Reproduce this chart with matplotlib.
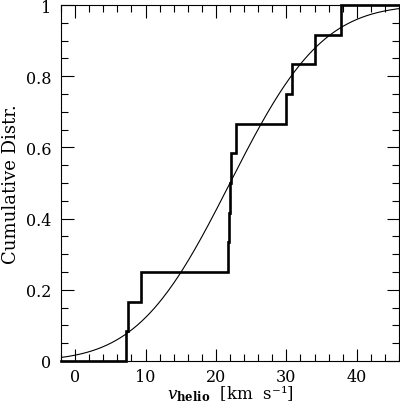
import numpy as np
import matplotlib
matplotlib.use("Agg")
import matplotlib.pyplot as plt
from matplotlib.ticker import MultipleLocator, FormatStrFormatter
from math import erf, sqrt

# velocities (sorted)
v_helio = [7.2, 7.45, 9.4, 21.65, 21.8, 22.0, 22.1, 22.9, 30.0, 30.8, 34.0, 37.7]
# gaussian model drawn on top
mu = 22.0
sigma = 10.3

xlo, xhi = -2, 46

plt.rcParams['font.family'] = ['DejaVu Serif']
plt.rcParams['mathtext.fontset'] = 'dejavuserif'

fig = plt.figure(figsize=(4.0, 4.06), dpi=100)
ax = fig.add_axes([0.1525, 0.1084, 0.845, 0.8766])

n = len(v_helio)
cum = np.arange(1, n + 1) / n
xs = np.r_[xlo, v_helio, xhi]
ys = np.r_[0, cum, 1]
ax.step(xs, ys, where='post', color='black', lw=1.9, solid_joinstyle='miter', clip_on=False)

xg = np.linspace(xlo, xhi, 400)
yg = np.array([0.5 * (1 + erf((x - mu) / (sigma * sqrt(2)))) for x in xg])
ax.plot(xg, yg, color='black', lw=0.8)

ax.set_xlim(xlo, xhi)
ax.set_ylim(0, 1)
ax.xaxis.set_major_locator(MultipleLocator(10))
ax.xaxis.set_minor_locator(MultipleLocator(2))
ax.yaxis.set_major_locator(MultipleLocator(0.2))
ax.yaxis.set_minor_locator(MultipleLocator(0.05))
ax.yaxis.set_major_formatter(FormatStrFormatter('%g'))
ax.tick_params(which='both', direction='in', top=True, right=True, labelsize=11.5, width=0.8)
ax.tick_params(which='major', length=9, pad=5)
ax.tick_params(axis='y', which='major', pad=7)
ax.tick_params(which='minor', length=5)
for s in ax.spines.values():
    s.set_linewidth(0.8)

xl = ax.set_xlabel('$v_{\\mathbf{helio}}$  [km  s\u207b\u00b9]', fontsize=12)
xl.set_va('baseline')
ax.xaxis.set_label_coords(0.5, -0.106)
ax.set_ylabel('Cumulative Distr.', fontsize=13, labelpad=4)

fig.savefig('out.png', dpi=100)
